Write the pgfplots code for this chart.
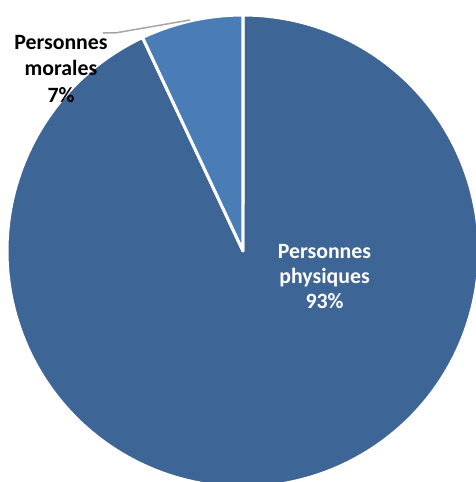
\documentclass[border=0pt]{standalone}
\usepackage{pgfplots}
\pgfplotsset{compat=1.18}
\usepackage{pgfplotstable}
\usepgfplotslibrary{polar}
\usepackage{fontspec}
\setmainfont{Carlito}
\definecolor{physC}{RGB}{61,101,150}
\definecolor{morC}{RGB}{74,124,182}
\pgfplotstableread{
label value
physiques 93
morales 7
}\piedata
\begin{document}
\begin{tikzpicture}
\useasboundingbox (-243pt,-231pt) rectangle (233pt,251pt);
\pgfplotstablegetelem{0}{value}\of\piedata \pgfmathsetmacro{\vA}{\pgfplotsretval}
\pgfplotstablegetelem{1}{value}\of\piedata \pgfmathsetmacro{\vB}{\pgfplotsretval}
\pgfmathsetmacro{\aStart}{90}
\pgfmathsetmacro{\aMid}{90-3.6*\vA}
\pgfmathsetmacro{\aEnd}{\aMid-3.6*\vB}
\begin{polaraxis}[
  at={(0pt,0pt)}, anchor=center,
  width=472pt, height=472pt, scale only axis,
  hide axis, ymin=0, ymax=1,
  clip=false]
\addplot[fill=physC, draw=white, line width=3pt, line join=round,
  domain=\aMid:\aStart, samples=200, mark=none] {1} -- (axis cs:0,0) -- cycle;
\addplot[fill=morC, draw=white, line width=3pt, line join=round,
  domain=\aEnd:\aMid, samples=40, mark=none] {1} -- (axis cs:0,0) -- cycle;
\end{polaraxis}
\draw[color=black!35, line width=1.5pt] (-140pt,218pt) -- (-128pt,218pt) -- (-53pt,231pt);
\begin{scope}[every node/.style={inner sep=0pt, font=\fontsize{21.8}{25}\selectfont\bfseries}]
\node[anchor=base, text=white] at (81.5pt,-7pt) {Personnes};
\node[anchor=base, text=white] at (81.5pt,-32pt) {physiques};
\node[anchor=base, text=white] at (81.5pt,-57pt) {93\%};
\node[anchor=base, text=black] at (-182pt,201pt) {Personnes};
\node[anchor=base, text=black] at (-182pt,175pt) {morales};
\node[anchor=base, text=black] at (-182pt,148pt) {7\%};
\end{scope}
\end{tikzpicture}
\end{document}
